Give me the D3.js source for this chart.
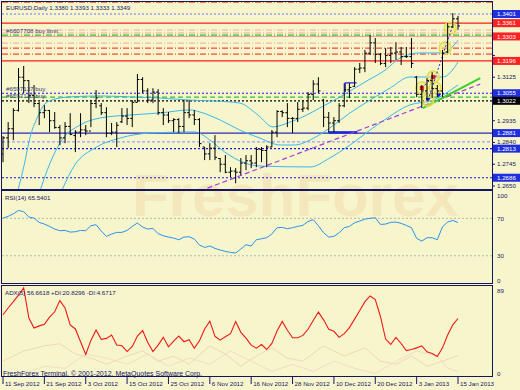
<!DOCTYPE html>
<html>
<head>
<meta charset="utf-8">
<script src="https://cdnjs.cloudflare.com/ajax/libs/d3/7.8.5/d3.min.js"></script>
<style>
body { margin: 0; background: #f7f5cc; }
svg { display: block; font-family: "Liberation Sans", Arial, sans-serif; }
</style>
</head>
<body>
<svg width="520" height="390"></svg>
<script>
// EURUSD daily bars, 11 Sep 2012 .. 15 Jan 2013
var opens = [1.2790,1.2860,1.2900,1.2980,1.3125,1.3110,1.3045,1.3010,1.2970,1.2980,
    1.2935,1.2905,1.2860,1.2910,1.2870,1.2885,1.2895,1.2890,1.3010,1.3000,
    1.2970,1.2880,1.2885,1.2930,1.2955,1.2945,1.3015,1.3115,1.3065,1.3025,
    1.3060,1.2970,1.2960,1.2935,1.2940,1.2910,1.2970,1.2960,1.2940,1.2820,
    1.2790,1.2815,1.2770,1.2745,1.2710,1.2715,1.2710,1.2750,1.2760,1.2750,
    1.2810,1.2805,1.2820,1.2885,1.2975,1.2970,1.2945,1.2945,1.2985,1.2990,
    1.3050,1.3095,1.3025,1.2950,1.2925,1.2935,1.3000,1.3070,1.3085,1.3160,
    1.3165,1.3230,1.3275,1.3225,1.3185,1.3220,1.3230,1.3235,1.3215,1.3215,
    1.3125,1.3050,1.3065,1.3110,1.3075,1.3065,1.3235,1.3345,1.3380];
var highs = [1.2868,1.2929,1.2990,1.3165,1.3174,1.3112,1.3091,1.3016,1.3003,1.2981,
    1.2973,1.2916,1.2929,1.2968,1.2894,1.2968,1.2916,1.3025,1.3069,1.3012,
    1.2994,1.2925,1.2929,1.2990,1.2990,1.3025,1.3139,1.3125,1.3077,1.3077,
    1.3073,1.2990,1.2973,1.2946,1.2946,1.3025,1.3025,1.2981,1.2946,1.2820,
    1.2837,1.2872,1.2772,1.2785,1.2732,1.2728,1.2772,1.2785,1.2785,1.2820,
    1.2820,1.2828,1.2894,1.2981,1.2981,1.3012,1.2951,1.3016,1.3025,1.3060,
    1.3112,1.3125,1.3030,1.2973,1.2951,1.3012,1.3099,1.3099,1.3169,1.3187,
    1.3244,1.3309,1.3296,1.3230,1.3252,1.3257,1.3278,1.3257,1.3257,1.3296,
    1.3130,1.3091,1.3121,1.3147,1.3091,1.3244,1.3362,1.3405,1.3393];
var lows = [1.2754,1.2815,1.2850,1.2975,1.3056,1.3012,1.2994,1.2916,1.2946,1.2885,
    1.2900,1.2828,1.2837,1.2872,1.2798,1.2863,1.2872,1.2907,1.2990,1.2960,
    1.2863,1.2872,1.2820,1.2925,1.2916,1.2907,1.3016,1.3056,1.3012,1.3012,
    1.2960,1.2916,1.2925,1.2885,1.2881,1.2885,1.2946,1.2916,1.2820,1.2763,
    1.2763,1.2763,1.2710,1.2706,1.2689,1.2662,1.2697,1.2719,1.2728,1.2732,
    1.2754,1.2732,1.2820,1.2863,1.2951,1.2907,1.2881,1.2929,1.2973,1.2981,
    1.3025,1.3056,1.2907,1.2885,1.2885,1.2925,1.2994,1.3034,1.3082,1.3143,
    1.3147,1.3222,1.3187,1.3178,1.3169,1.3187,1.3200,1.3178,1.3209,1.3165,
    1.3038,1.2990,1.3025,1.3034,1.3038,1.3038,1.3230,1.3340,1.3333];
var closes = [1.2860,1.2900,1.2980,1.3125,1.3110,1.3045,1.3010,1.2970,1.2980,1.2935,
    1.2905,1.2860,1.2910,1.2875,1.2885,1.2895,1.2890,1.3010,1.3035,1.2970,
    1.2880,1.2885,1.2915,1.2955,1.2945,1.3015,1.3115,1.3065,1.3025,1.3060,
    1.2970,1.2960,1.2935,1.2940,1.2910,1.2970,1.2960,1.2940,1.2835,1.2790,
    1.2815,1.2775,1.2745,1.2710,1.2715,1.2710,1.2750,1.2760,1.2750,1.2810,
    1.2805,1.2820,1.2885,1.2975,1.2970,1.2945,1.2945,1.2985,1.2990,1.3050,
    1.3095,1.3065,1.2950,1.2925,1.2935,1.3000,1.3070,1.3080,1.3160,1.3165,
    1.3230,1.3275,1.3225,1.3185,1.3220,1.3230,1.3235,1.3215,1.3215,1.3185,
    1.3050,1.3065,1.3110,1.3075,1.3065,1.3230,1.3345,1.3380,1.3349];

var rsi = [70.3,72.1,74.9,78.5,77.1,71.4,70.3,65.7,63.9,61.4,
    58.5,56.8,57.1,55.3,55.7,57.1,56.8,62.1,63.2,56.4,
    50.7,53.2,55.0,55.0,57.1,61.4,65.0,60.7,58.5,59.3,
    53.6,51.4,50.0,48.9,47.1,50.0,50.3,47.9,41.4,38.9,
    40.4,37.9,36.1,34.7,33.6,32.9,37.2,41.8,40.4,47.1,
    48.2,49.3,53.2,60.0,60.3,58.9,60.0,61.4,62.5,66.7,
    68.5,62.1,54.6,50.0,50.7,54.6,60.0,61.4,65.3,67.1,
    69.2,70.0,70.7,63.5,63.9,65.7,66.0,64.6,62.5,60.0,
    48.6,45.7,49.3,49.3,47.1,61.0,66.0,67.8,65.5];

var adx = [60.4,67.0,73.2,79.5,86.7,57.1,47.5,49.5,51.1,58.0,
    63.3,74.2,67.0,50.5,46.5,34.0,21.5,35.3,45.5,36.3,
    37.3,40.6,30.7,30.0,24.4,29.4,39.6,44.9,33.3,24.4,
    30.7,38.3,29.0,34.6,39.6,34.0,36.0,27.7,35.0,46.5,
    54.1,39.3,35.6,38.9,41.9,53.8,43.2,37.6,30.7,27.7,
    31.3,26.4,32.3,44.5,53.8,45.2,37.9,37.9,40.2,46.2,
    54.8,63.0,55.4,46.2,44.2,38.3,41.9,47.8,56.1,64.6,
    73.2,78.8,75.2,58.7,36.6,31.3,38.3,32.3,25.4,26.4,
    28.0,30.0,24.1,22.4,19.5,28.0,40.6,50.5,56.7];
var diPlusBars = [0,4,8,11,14,17,20,24,27,30,33,36,40,43,46,49,52,55,58,62,66,70,73,76,79,82,85,88];
var diPlus = [15,25,30,32,22,18,12,20,25,15,20,12,30,22,10,20,28,18,15,30,20,28,15,12,20,10,15,20.8];
var diMinusBars = [0,4,8,12,16,20,24,28,32,36,40,44,48,52,56,60,64,68,72,76,80,84,86,88];
var diMinus = [5,3,10,8,22,18,12,22,10,18,12,25,15,5,12,5,15,8,3,15,25,20,8,4.7];

// bollinger-like bands, read at a few bars
var upperBandBars = [2.9,4.1,5.2,6.6,8.1,10.1,13,18.8,24.6,30.4,36.2,41,45.8,49.3,52.2,55.5,58.4,61.3,65.2,70,73.9,76.8,80.7,85.1,88];
var upperBand = [1.2632,1.2742,1.2860,1.2947,1.3008,1.3030,1.3039,1.3043,1.3039,1.3034,1.3025,1.3021,1.3012,1.2960,1.2908,1.2929,1.2956,1.2991,1.3039,1.3104,1.3156,1.3209,1.3231,1.3231,1.3287];
var middleBandBars = [7.2,9.1,11.4,14.9,18.8,24.6,30.4,36.2,38.1,42,45.8,49.7,53.6,56.5,59.4,63.2,67.1,71,74.9,78.7,85.1,88];
var middleBand = [1.2632,1.2750,1.2851,1.2916,1.2947,1.2960,1.2969,1.2982,1.2973,1.2938,1.2894,1.2859,1.2829,1.2829,1.2851,1.2903,1.2969,1.3025,1.3078,1.3126,1.3126,1.3191];
var lowerBandBars = [11.4,13.9,17.8,22.6,28.4,37.1,40,42.9,46.8,49.7,59.4,63.2,67.1,72.9,78.7,83.2,88];
var lowerBand = [1.2632,1.2742,1.2816,1.2859,1.2881,1.2886,1.2851,1.2798,1.2750,1.2737,1.2733,1.2772,1.2829,1.2925,1.3004,1.3025,1.3091];

var dateTickBars = [0,8,16,24,32,40,48,56,64,72,80,88];
var dateTickLabels = ['11 Sep 2012','21 Sep 2012','3 Oct 2012','15 Oct 2012','25 Oct 2012','6 Nov 2012',
    '16 Nov 2012','28 Nov 2012','10 Dec 2012','20 Dec 2012','3 Jan 2013','15 Jan 2013'];
var priceTicks = [1.3315,1.3220,1.3125,1.3030,1.2935,1.2840,1.2745,1.2650];

var levelPrices = [1.3453,1.3401,1.3361,1.3331,1.3318,1.3309,1.3303,1.3274,1.3252,1.3226,1.3196,
    1.3055,1.3038,1.3022,1.2881,1.2843,1.2813,1.2686];
var levelKinds = ['redDashDot','lightBlueDot','red','salmonDashDot','salmonDashDot','greenDashDot','salmon',
    'salmonDashDot','redDashDot','redDashDot','red','blueDot','greenDash','blackDot','navy','lilacDash','blueDot','blueDot'];
var boxPrices = [1.3401,1.3361,1.3303,1.3196,1.3055,1.3022,1.2881,1.2813,1.2686];
var boxKinds = ['blue','red','red','red','blue','black','blue','blue','blue'];

var orderTexts = ['#6607708 buy limit','#6597137 buy','#6597130 buy'];
var orderPrices = [1.3318,1.3063,1.3036];

var purpleTrendBars = [38.1,92.3], purpleTrend = [1.2628,1.3095];
var greenTrendBars = [81.2,92.3], greenTrend = [1.2990,1.3121];
var markBars = [86.5,85.5,83.2,81,83.6,82.2];
var markPrices = [1.3340,1.3252,1.3126,1.3078,1.3078,1.3025];

var styles = {
    redDashDot: ['#ff1a1a', '6,2,1,2', 1],
    red: ['#ff1a1a', null, 1.2],
    salmon: ['#f39a9a', null, 1],
    salmonDashDot: ['#f5a8a2', '6,2,1,2', 1],
    greenDashDot: ['#2fc42f', '6,2,1,2', 1.2],
    greenDash: ['#2fc42f', '5,3', 1.4],
    lightBlueDot: ['#7070ff', '2,2', 1],
    blueDot: ['#1a1ad8', '2,2', 1.2],
    blackDot: ['#000000', '2,2', 1.2],
    navy: ['#2a2ab8', null, 1.2],
    lilacDash: ['#9d9dff', '3,2', 1.2]
};
var boxColors = {blue: '#1f2fe0', red: '#ff2222', black: '#000000'};

var svg = d3.select('svg');
var ink = '#18186a';
var fs = 6.2;

var x = d3.scaleLinear().domain([0, 88]).range([3, 458]);
var yMain = d3.scaleLinear().domain([1.26346, 1.34556]).range([189.5, 1.5]);
var yRsi = d3.scaleLinear().domain([0, 100]).range([283.8, 190.3]);
var yAdx = d3.scaleLinear().domain([0, 89]).range([376.5, 285.5]);

svg.append('rect')
    .attr('width', 520).attr('height', 390)
    .attr('fill', '#f7f5cc')
;

var defs = svg.append('defs');
defs.append('clipPath').attr('id', 'clipMain')
    .append('rect').attr('x', 2).attr('y', 2).attr('width', 490).attr('height', 187);
defs.append('clipPath').attr('id', 'clipAdx')
    .append('rect').attr('x', 2).attr('y', 286).attr('width', 490).attr('height', 90);

// watermark
svg.append('text')
    .attr('x', 132).attr('y', 216)
    .attr('font-size', 60).attr('font-weight', 'bold')
    .attr('fill', '#f0c08e').attr('opacity', 0.25)
    .text('FreshForex')
;

var main = svg.append('g').attr('clip-path', 'url(#clipMain)');

main.selectAll('.level')
    .data(levelPrices)
    .enter()
    .append('line')
        .attr('x1', 2).attr('x2', 492)
        .attr('y1', function (d) { return yMain(d); })
        .attr('y2', function (d) { return yMain(d); })
        .attr('stroke', function (d, i) { return styles[levelKinds[i]][0]; })
        .attr('stroke-dasharray', function (d, i) { return styles[levelKinds[i]][1]; })
        .attr('stroke-width', function (d, i) { return styles[levelKinds[i]][2]; })
;

// short drawn segments
main.append('line')
    .attr('x1', x(62.9)).attr('x2', x(68.5))
    .attr('y1', yMain(1.2884)).attr('y2', yMain(1.2884))
    .attr('stroke', '#1a2ae0').attr('stroke-width', 2.5)
;
main.append('path')
    .attr('d', 'M' + x(66.2) + ',' + yMain(1.3060) + 'V' + yMain(1.3100) + 'H' + x(68.4))
    .attr('fill', 'none').attr('stroke', '#1a2ae0').attr('stroke-width', 1.2)
;

var bandLine = d3.line()
    .x(function (d) { return x(d[0]); })
    .y(function (d) { return yMain(d[1]); })
    .curve(d3.curveMonotoneX)
;
[[upperBandBars, upperBand], [middleBandBars, middleBand], [lowerBandBars, lowerBand]].forEach(function (b) {
    main.append('path')
        .datum(d3.zip(b[0], b[1]))
        .attr('d', bandLine)
        .attr('fill', 'none')
        .attr('stroke', '#3ab8ee')
        .attr('stroke-width', 1)
    ;
});

main.append('line')
    .attr('x1', x(purpleTrendBars[0])).attr('y1', yMain(purpleTrend[0]))
    .attr('x2', x(purpleTrendBars[1])).attr('y2', yMain(purpleTrend[1]))
    .attr('stroke', '#a040d8').attr('stroke-width', 1.2).attr('stroke-dasharray', '5,3')
;
main.append('line')
    .attr('x1', x(greenTrendBars[0])).attr('y1', yMain(greenTrend[0]))
    .attr('x2', x(greenTrendBars[1])).attr('y2', yMain(greenTrend[1]))
    .attr('stroke', '#3ccf2a').attr('stroke-width', 2)
;

// trade history
main.selectAll('.mark')
    .data(markBars)
    .enter()
    .append('circle')
        .attr('cx', function (d) { return x(d); })
        .attr('cy', function (d, i) { return yMain(markPrices[i]); })
        .attr('r', 6)
        .attr('fill', 'rgba(236,232,96,0.45)')
        .attr('stroke', '#e4dc50')
        .attr('stroke-width', 1.5)
;
main.append('path')
    .attr('d', 'M' + x(82.2) + ',' + yMain(1.3025) + 'L' + x(85.5) + ',' + yMain(1.3252) + 'L' + x(86.9) + ',' + yMain(1.3345))
    .attr('fill', 'none').attr('stroke', '#2a2ae8').attr('stroke-dasharray', '2,2')
;
main.append('path')
    .attr('d', 'M' + x(81) + ',' + yMain(1.3078) + 'L' + x(83.2) + ',' + yMain(1.3126))
    .attr('fill', 'none').attr('stroke', '#2a2ae8').attr('stroke-dasharray', '2,2')
;
[[81, 1.3078], [83.2, 1.3126]].forEach(function (m) {
    main.append('rect')
        .attr('x', x(m[0]) - 2).attr('y', yMain(m[1]) - 2)
        .attr('width', 4).attr('height', 4)
        .attr('fill', '#e81818')
    ;
});
[[82.2, 1.3025], [84.3, 1.3045]].forEach(function (m) {
    main.append('path')
        .attr('d', 'M' + (x(m[0]) - 2.5) + ',' + (yMain(m[1]) - 2) + 'h5l-2.5,4z')
        .attr('fill', '#1a1ae8')
    ;
});

// OHLC bars
var bars = main.selectAll('.bar')
    .data(highs)
    .enter()
    .append('g')
        .attr('class', 'bar')
        .attr('stroke', '#000')
        .attr('stroke-width', 1)
;
bars.append('line')
    .attr('x1', function (d, i) { return x(i); })
    .attr('x2', function (d, i) { return x(i); })
    .attr('y1', function (d) { return yMain(d); })
    .attr('y2', function (d, i) { return yMain(lows[i]); })
;
bars.append('line')
    .attr('x1', function (d, i) { return x(i) - 2; })
    .attr('x2', function (d, i) { return x(i); })
    .attr('y1', function (d, i) { return yMain(opens[i]); })
    .attr('y2', function (d, i) { return yMain(opens[i]); })
;
bars.append('line')
    .attr('x1', function (d, i) { return x(i); })
    .attr('x2', function (d, i) { return x(i) + 2; })
    .attr('y1', function (d, i) { return yMain(closes[i]); })
    .attr('y2', function (d, i) { return yMain(closes[i]); })
;

// RSI panel
svg.selectAll('.rsilevel')
    .data([70, 30])
    .enter()
    .append('line')
        .attr('x1', 2).attr('x2', 492)
        .attr('y1', function (d) { return yRsi(d); })
        .attr('y2', function (d) { return yRsi(d); })
        .attr('stroke', '#b8b8b0').attr('stroke-dasharray', '2,2')
;
svg.append('path')
    .datum(rsi)
    .attr('d', d3.line()
        .x(function (d, i) { return x(i); })
        .y(function (d) { return yRsi(d); }))
    .attr('fill', 'none')
    .attr('stroke', '#2a92f0')
    .attr('stroke-width', 1)
;

// ADX panel
var adxG = svg.append('g').attr('clip-path', 'url(#clipAdx)');
var diLine = d3.line()
    .x(function (d) { return x(d[0]); })
    .y(function (d) { return yAdx(d[1]); })
;
adxG.append('path')
    .datum(d3.zip(diPlusBars, diPlus))
    .attr('d', diLine)
    .attr('fill', 'none').attr('stroke', '#f3d6b8').attr('stroke-width', 1)
;
adxG.append('path')
    .datum(d3.zip(diMinusBars, diMinus))
    .attr('d', diLine)
    .attr('fill', 'none').attr('stroke', '#f4dcc4').attr('stroke-width', 1)
;
adxG.append('path')
    .datum(adx)
    .attr('d', d3.line()
        .x(function (d, i) { return x(i); })
        .y(function (d) { return yAdx(d); }))
    .attr('fill', 'none')
    .attr('stroke', '#f01818')
    .attr('stroke-width', 1.1)
;

// frames
[[1.5, 1.5, 491, 188], [1.5, 190.5, 491, 93], [1.5, 285.5, 491, 91]].forEach(function (r) {
    svg.append('rect')
        .attr('x', r[0]).attr('y', r[1]).attr('width', r[2]).attr('height', r[3])
        .attr('fill', 'none').attr('stroke', '#141460').attr('stroke-width', 1)
    ;
});

// price axis; ticks hidden behind a price box are left out as in the terminal
var axisG = svg.append('g').attr('font-size', fs).attr('fill', ink);
var shownTicks = priceTicks.filter(function (t) {
    return boxPrices.every(function (b) { return Math.abs(yMain(t) - yMain(b)) > 6; });
});
axisG.selectAll('.ptick')
    .data(shownTicks)
    .enter()
    .append('text')
        .attr('x', 497)
        .attr('y', function (d) { return yMain(d) + 2; })
        .text(function (d) { return d.toFixed(4); })
;
axisG.selectAll('.ptickmark')
    .data(priceTicks)
    .enter()
    .append('line')
        .attr('x1', 492).attr('x2', 495)
        .attr('y1', function (d) { return yMain(d); })
        .attr('y2', function (d) { return yMain(d); })
        .attr('stroke', ink)
;
var boxes = axisG.selectAll('.pbox')
    .data(boxPrices)
    .enter()
    .append('g')
;
boxes.append('rect')
    .attr('x', 493).attr('width', 27)
    .attr('y', function (d) { return yMain(d) - 4; })
    .attr('height', 8)
    .attr('fill', function (d, i) { return boxColors[boxKinds[i]]; })
;
boxes.append('text')
    .attr('x', 497)
    .attr('y', function (d) { return yMain(d) + 2.2; })
    .attr('fill', '#ffffff')
    .text(function (d) { return d.toFixed(4); })
;

// sub-panel scales
[[100, yRsi, 190.5, 283.5], [70, yRsi, 190.5, 283.5], [30, yRsi, 190.5, 283.5], [0, yRsi, 190.5, 283.5],
 [89, yAdx, 285.5, 376.5], [0, yAdx, 285.5, 376.5]].forEach(function (t) {
    var yy = Math.min(Math.max(t[1](t[0]) + 2.2, t[2] + 7), t[3] - 0.5);
    axisG.append('text').attr('x', 497).attr('y', yy).text(t[0]);
});

// date axis
var dates = svg.append('g').attr('font-size', fs).attr('fill', ink);
dates.selectAll('.dtick')
    .data(dateTickBars)
    .enter()
    .append('line')
        .attr('x1', function (d) { return x(d); })
        .attr('x2', function (d) { return x(d); })
        .attr('y1', 377).attr('y2', 384)
        .attr('stroke', ink)
;
dates.selectAll('.dlabel')
    .data(dateTickBars)
    .enter()
    .append('text')
        .attr('x', function (d) { return x(d) + 2; })
        .attr('y', 386)
        .text(function (d, i) { return dateTickLabels[i]; })
;

// captions
var cap = svg.append('g').attr('font-size', fs).attr('fill', ink);
cap.append('text').attr('x', 6).attr('y', 9.5).text('EURUSD,Daily  1.3380 1.3393 1.3333 1.3349');
cap.selectAll('.order')
    .data(orderPrices)
    .enter()
    .append('text')
        .attr('x', 6)
        .attr('y', function (d) { return yMain(d); })
        .attr('fill', '#3a3a78')
        .text(function (d, i) { return orderTexts[i]; })
;
cap.append('text').attr('x', 5).attr('y', 200).text('RSI(14) 65.5401');
cap.append('text').attr('x', 5).attr('y', 295).text('ADX(5) 56.6618 +DI:20.8296 -DI:4.6717');
cap.append('text').attr('x', 3).attr('y', 375.5).attr('font-size', 7)
    .text('FreshForex Terminal, \u00a9 2001-2012, MetaQuotes Software Corp.');
</script>
</body>
</html>
